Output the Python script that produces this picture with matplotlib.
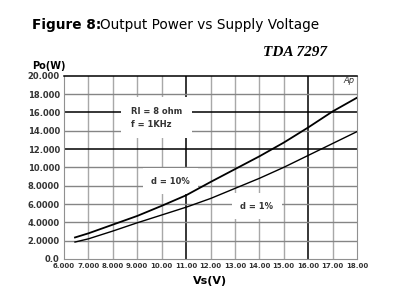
import matplotlib
matplotlib.use("Agg")
import matplotlib.pyplot as plt

# supply voltage (V) and output power (W)
vs = [6.45, 7, 8, 9, 10, 11, 12, 13, 14, 15, 16, 17, 18]
po_d10 = [2.35, 2.8, 3.75, 4.7, 5.8, 6.95, 8.4, 9.8, 11.2, 12.7, 14.35, 16.1, 17.6]
po_d1 = [1.85, 2.2, 3.05, 3.95, 4.8, 5.65, 6.6, 7.7, 8.8, 10.0, 11.3, 12.6, 13.9]

x_ticks = [6, 7, 8, 9, 10, 11, 12, 13, 14, 15, 16, 17, 18]
x_labels = ["6.000", "7.000", "8.000", "9.000", "10.00", "11.00", "12.00",
            "13.00", "14.00", "15.00", "16.00", "17.00", "18.00"]
y_ticks = [0, 2, 4, 6, 8, 10, 12, 14, 16, 18, 20]
y_labels = ["0.0", "2.0000", "4.0000", "6.0000", "8.0000", "10.000",
            "12.000", "14.000", "16.000", "18.000", "20.000"]
x_major = [11, 16]
y_major = [12, 16]

fig = plt.figure(figsize=(4.0, 3.06), dpi=100)
ax = fig.add_axes([0.16, 0.1536, 0.7325, 0.599])

ax.set_xlim(6, 18)
ax.set_ylim(0, 20)

# grid
for x in x_ticks[1:-1]:
    if x in x_major:
        ax.axvline(x, color="black", lw=1.1, zorder=1)
    else:
        ax.axvline(x, color="#a8a8a8", lw=1.0, zorder=1)
for y in y_ticks[1:-1]:
    if y in y_major:
        ax.axhline(y, color="black", lw=1.1, zorder=1)
    else:
        ax.axhline(y, color="#858585", lw=1.0, zorder=1)

for side in ["left", "bottom", "right"]:
    ax.spines[side].set_color("#909090")
ax.spines["top"].set_color("black")
ax.spines["top"].set_linewidth(1.1)

ax.plot(vs, po_d10, color="black", lw=1.3, zorder=4)
ax.plot(vs, po_d1, color="black", lw=1.0, zorder=4)

ax.set_xticks(x_ticks)
ax.set_xticklabels(x_labels, fontsize=5, fontweight="bold", color="#333333")
ax.set_yticks(y_ticks)
ax.set_yticklabels(y_labels, fontsize=6, fontweight="bold", color="#333333")
ax.tick_params(length=0, pad=3)

# annotation boxes (white background hides grid)
ax.text(8.75, 15.4, "Rl = 8 ohm\nf = 1KHz", fontsize=6, fontweight="bold",
        color="#333333", ha="left", va="center", linespacing=1.5, zorder=3,
        bbox=dict(facecolor="white", edgecolor="none", pad=7))
ax.text(10.35, 8.5, "d = 10%", fontsize=6, fontweight="bold", color="#333333",
        ha="center", va="center", zorder=3, bbox=dict(facecolor="white", edgecolor="none", pad=6))
ax.text(13.9, 5.75, "d = 1%", fontsize=6, fontweight="bold", color="#333333",
        ha="center", va="center", zorder=3, bbox=dict(facecolor="white", edgecolor="none", pad=6))
ax.text(17.9, 19.5, "Ap", fontsize=6, style="italic", color="#333333",
        ha="right", va="center", zorder=3)

fig.text(0.08, 0.918, "Figure 8:", fontsize=9.8, fontweight="bold", ha="left", va="center")
fig.text(0.25, 0.918, "Output Power vs Supply Voltage", fontsize=9.8, ha="left", va="center")
fig.text(0.658, 0.83, "TDA 7297", fontsize=11, style="italic", fontweight="bold",
         family="Liberation Serif", ha="left", va="center")
fig.text(0.08, 0.785, "Po(W)", fontsize=7, fontweight="bold", ha="left", va="center")
fig.text(0.525, 0.083, "Vs(V)", fontsize=8, fontweight="bold", ha="center", va="center")

fig.savefig("out.png", dpi=100)
